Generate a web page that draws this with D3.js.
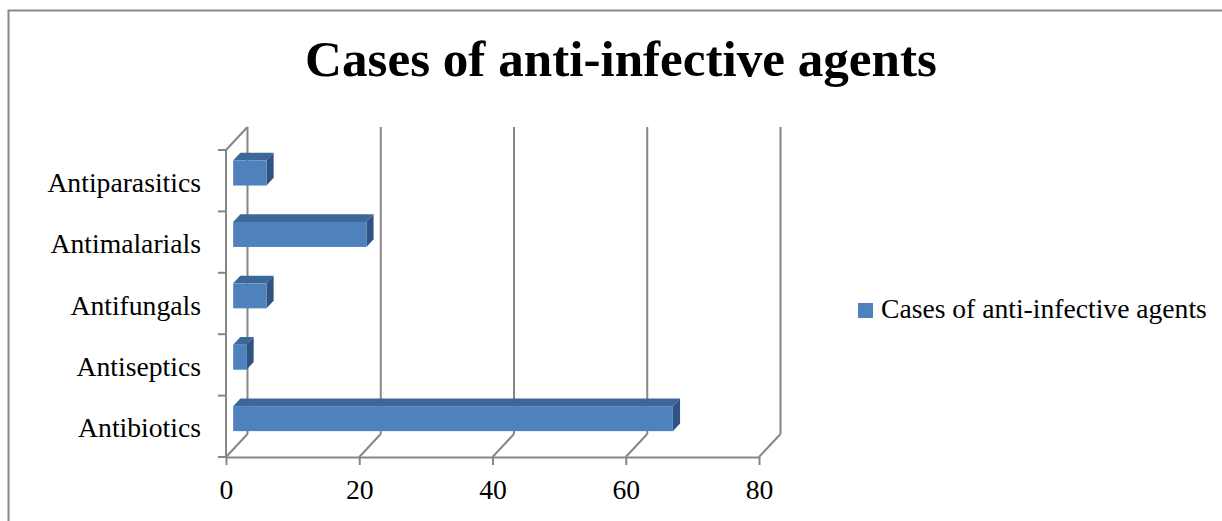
<!DOCTYPE html>
<html><head><meta charset="utf-8">
<script src="https://cdn.jsdelivr.net/npm/d3@7"></script>
<style>body{margin:0;background:#fff}svg{display:block}</style>
</head><body>
<svg id="c" width="1222" height="521"></svg>
<script>
const categories = ["Antibiotics","Antiseptics","Antifungals","Antimalarials","Antiparasitics"];
const values = [66, 2, 5, 20, 5];
const seriesName = "Cases of anti-infective agents";
const title = "Cases of anti-infective agents";
const xTicks = [0, 20, 40, 60, 80];

const svg = d3.select("#c");
const FONT = "'Liberation Serif', serif";
const GRID = "#868686";
const DX = 21.5, DY = -23;          // chart depth offset
const T0 = 1/3;                      // bar depth start fraction
const BD = 1/3;                      // bar depth fraction

function fitSize(txt, weight, target){
  const t = svg.append("text").attr("font-family",FONT).attr("font-weight",weight)
    .attr("font-size",20).text(txt);
  const w = t.node().getComputedTextLength();
  t.remove();
  return 20*target/w;
}
const LBL = fitSize("Antibiotics","normal",123);
const LEG = fitSize(seriesName,"normal",326);
const TTL = fitSize(title,"bold",632);

// outer border
svg.append("path").attr("d","M8.5,530 L8.5,10.5 L1230,10.5")
  .attr("fill","none").attr("stroke","#888").attr("stroke-width",2);

// title
svg.append("text").attr("x",621).attr("y",76).attr("text-anchor","middle")
  .attr("font-family",FONT).attr("font-weight","bold").attr("font-size",TTL)
  .text(title);

const x = d3.scaleLinear().domain([0,80]).range([226,759]);
const y = d3.scaleBand().domain(categories.slice().reverse()).range([150,457]);
const yBottom = 457, yTop = 150;

const g = svg.append("g");
xTicks.forEach(t=>{
  const xf = x(t), xb = x(t)+DX;
  g.append("line").attr("x1",xb).attr("x2",xb).attr("y1",yTop+DY).attr("y2",yBottom+DY)
    .attr("stroke",GRID).attr("stroke-width",2);
  g.append("line").attr("x1",xf).attr("x2",xb).attr("y1",yBottom).attr("y2",yBottom+DY)
    .attr("stroke",GRID).attr("stroke-width",2);
});
g.append("line").attr("x1",x(0)).attr("x2",x(0)+DX).attr("y1",yTop).attr("y2",yTop+DY)
  .attr("stroke",GRID).attr("stroke-width",2);
g.append("line").attr("x1",x(0)).attr("x2",x(0)).attr("y1",yTop).attr("y2",yBottom)
  .attr("stroke",GRID).attr("stroke-width",2);
const bounds = categories.map(c=>y(c)).concat([yBottom]);
bounds.forEach(b=>{
  g.append("line").attr("x1",x(0)-8).attr("x2",x(0)).attr("y1",b).attr("y2",b)
    .attr("stroke",GRID).attr("stroke-width",2);
});

// x axis (front)
const xAxis = svg.append("g").attr("transform",`translate(0,${yBottom})`)
  .call(d3.axisBottom(x).tickValues(xTicks).tickSize(8).tickPadding(0).tickSizeOuter(0));
xAxis.select(".domain").attr("stroke",GRID).attr("stroke-width",2);
xAxis.selectAll(".tick line").attr("stroke",GRID).attr("stroke-width",2);
xAxis.selectAll("text").attr("font-family",FONT).attr("font-size",LBL).attr("fill","#000")
  .attr("y",42).attr("dy",0);

// y axis labels
const yAxis = svg.append("g").attr("transform",`translate(201,0)`)
  .call(d3.axisLeft(y).tickSize(0).tickPadding(0));
yAxis.select(".domain").remove();
yAxis.selectAll("text").attr("font-family",FONT).attr("font-size",LBL).attr("fill","#000")
  .attr("dy",0).attr("y",11);

// bars
const BH = 25;
const dx = DX*BD, dy = DY*BD;
const bars = svg.append("g");
categories.forEach((c,i)=>{
  const v = values[i];
  const cy = y(c) + y.bandwidth()/2 + DY*T0;
  const x0 = x(0) + DX*T0, x1 = x(v) + DX*T0;
  const yt = cy - BH/2, yb = cy + BH/2;
  bars.append("path").attr("d",`M${x0},${yt}L${x1},${yt}L${x1+dx},${yt+dy}L${x0+dx},${yt+dy}Z`)
    .attr("fill","#3d6799");
  bars.append("path").attr("d",`M${x1},${yt}L${x1+dx},${yt+dy}L${x1+dx},${yb+dy}L${x1},${yb}Z`)
    .attr("fill","#2f5383");
  bars.append("rect").attr("x",x0).attr("y",yt).attr("width",x1-x0).attr("height",BH)
    .attr("fill","#4f81bd");
});

// legend
svg.append("rect").attr("x",858).attr("y",303).attr("width",15).attr("height",15).attr("fill","#4f81bd");
svg.append("text").attr("x",881).attr("y",318).attr("font-family",FONT).attr("font-size",LEG)
  .text(seriesName);
</script>
</body></html>
